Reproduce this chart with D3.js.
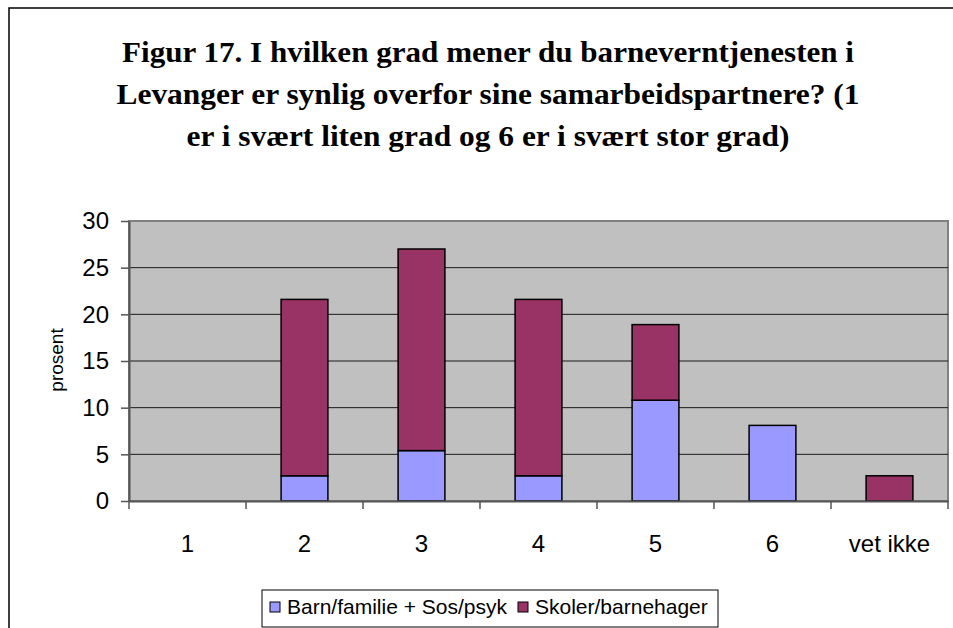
<!DOCTYPE html>
<html>
<head>
<meta charset="utf-8">
<script src="https://cdn.jsdelivr.net/npm/d3@7"></script>
<style>
  body { margin: 0; background: #fff; }
  svg { display: block; }
</style>
</head>
<body>
<script>
// data
const categories = ["1", "2", "3", "4", "5", "6", "vet ikke"];
const barnFamilie = [0, 2.7, 5.4, 2.7, 10.8, 8.1, 0];
const skoler = [0, 18.9, 21.6, 18.9, 8.1, 0, 2.7];
const seriesNames = ["Barn/familie + Sos/psyk", "Skoler/barnehager"];
const seriesColors = ["#9999FF", "#993366"];
const yTicks = [0, 5, 10, 15, 20, 25, 30];
const titleLines = [
  "Figur 17. I hvilken grad mener du barneverntjenesten i",
  "Levanger er synlig overfor sine samarbeidspartnere? (1",
  "er i svært liten grad og 6 er i svært stor grad)"
];

const width = 953, height = 628;
const plot = { left: 129, right: 948, top: 221, bottom: 501 };

const svg = d3.select("body").append("svg")
  .attr("width", width).attr("height", height);

// outer chart frame (runs off the right and bottom edge)
svg.append("rect")
  .attr("x", 9).attr("y", 8).attr("width", 960).attr("height", 640)
  .attr("fill", "none").attr("stroke", "#000").attr("stroke-width", 1.5);

// title
const titleWidths = [732, 743, 603];
svg.append("g").selectAll("text")
  .data(titleLines).enter().append("text")
  .attr("x", 488)
  .attr("y", (d, i) => 62 + i * 42)
  .attr("text-anchor", "middle")
  .attr("textLength", (d, i) => titleWidths[i])
  .attr("lengthAdjust", "spacingAndGlyphs")
  .style("font-family", "'Liberation Serif', 'Times New Roman', serif")
  .style("font-weight", "bold")
  .style("font-size", "30px")
  .text(d => d);

const x = d3.scaleBand()
  .domain(categories)
  .range([plot.left, plot.right])
  .paddingInner(0.6)
  .paddingOuter(0.3);

const y = d3.scaleLinear()
  .domain([0, 30])
  .range([plot.bottom, plot.top]);

// plot background
svg.append("rect")
  .attr("x", plot.left).attr("y", plot.top)
  .attr("width", plot.right - plot.left).attr("height", plot.bottom - plot.top)
  .attr("fill", "#C0C0C0")
  .attr("stroke", "#808080").attr("stroke-width", 2);

// gridlines
svg.append("g").selectAll("line")
  .data(yTicks.filter(t => t > 0 && t < 30)).enter().append("line")
  .attr("x1", plot.left).attr("x2", plot.right)
  .attr("y1", d => y(d)).attr("y2", d => y(d))
  .attr("stroke", "#1a1a1a").attr("stroke-width", 1);

// stacked bars
const rows = categories.map((c, i) => ({ cat: c, a: barnFamilie[i], b: skoler[i] }));
const stack = d3.stack().keys(["a", "b"])(rows);

svg.append("g").selectAll("g")
  .data(stack).enter().append("g")
  .attr("fill", (d, i) => seriesColors[i])
  .selectAll("rect")
  .data(d => d.filter(p => p[1] - p[0] > 0)).enter().append("rect")
  .attr("x", d => x(d.data.cat))
  .attr("width", x.bandwidth())
  .attr("y", d => y(d[1]))
  .attr("height", d => y(d[0]) - y(d[1]))
  .attr("stroke", "#000").attr("stroke-width", 1.5);

// y axis
const yAxis = svg.append("g")
  .attr("transform", `translate(${plot.left},0)`)
  .call(d3.axisLeft(y).tickValues(yTicks).tickSize(8).tickPadding(12).tickSizeOuter(0));
yAxis.select(".domain").attr("stroke", "#555").attr("stroke-width", 2);
yAxis.selectAll(".tick line").attr("stroke", "#555").attr("stroke-width", 1.5);
yAxis.selectAll("text")
  .style("font-family", "'Liberation Sans', Arial, sans-serif")
  .style("font-size", "24px")
  .attr("fill", "#000");

// x axis: labels centred on bars, ticks at category boundaries
const xAxis = svg.append("g")
  .attr("transform", `translate(0,${plot.bottom})`)
  .call(d3.axisBottom(x).tickSize(0).tickPadding(34).tickSizeOuter(0));
xAxis.select(".domain").attr("stroke", "#555").attr("stroke-width", 2);
xAxis.selectAll("text")
  .style("font-family", "'Liberation Sans', Arial, sans-serif")
  .style("font-size", "24px")
  .attr("fill", "#000");

const boundaries = categories.map(c => x(c) - x.step() * x.paddingOuter());
boundaries.push(plot.right);
svg.append("g").selectAll("line")
  .data(boundaries).enter().append("line")
  .attr("x1", d => d).attr("x2", d => d)
  .attr("y1", plot.bottom).attr("y2", plot.bottom + 8)
  .attr("stroke", "#555").attr("stroke-width", 1.5);

// y axis title
svg.append("text")
  .attr("transform", `translate(63,360) rotate(-90)`)
  .attr("text-anchor", "middle")
  .style("font-family", "'Liberation Sans', Arial, sans-serif")
  .style("font-size", "19px")
  .text("prosent");

// legend
const legend = svg.append("g");
legend.append("rect")
  .attr("x", 262).attr("y", 590).attr("width", 456).attr("height", 37)
  .attr("fill", "#fff").attr("stroke", "#000").attr("stroke-width", 1);
const legendX = [270, 518];
seriesNames.forEach((name, i) => {
  legend.append("rect")
    .attr("x", legendX[i]).attr("y", 602).attr("width", 10).attr("height", 10)
    .attr("fill", seriesColors[i]).attr("stroke", "#000").attr("stroke-width", 1);
  legend.append("text")
    .attr("x", legendX[i] + 17).attr("y", 614)
    .style("font-family", "'Liberation Sans', Arial, sans-serif")
    .style("font-size", "21px")
    .text(name);
});
</script>
</body>
</html>
